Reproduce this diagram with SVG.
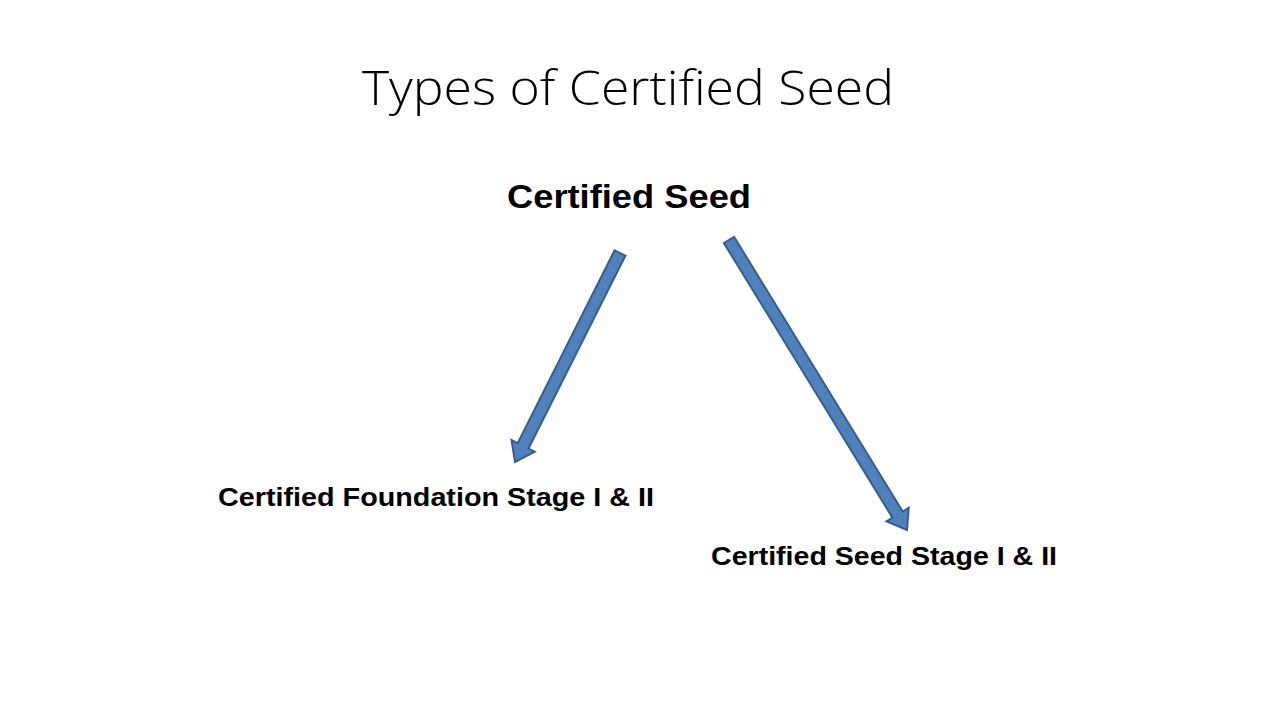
<svg xmlns="http://www.w3.org/2000/svg" width="1280" height="720" viewBox="0 0 1280 720">
<style>
.t{font-family:"Open Sans","Liberation Sans",sans-serif;fill:#000}
.b{font-family:"Liberation Sans","Open Sans",sans-serif;font-weight:bold;fill:#000}
.a{fill:#4F81BD;stroke:#385D8A;stroke-width:2}
</style>
<rect width="1280" height="720" fill="#fff"/>
<g id="title"><text class="t" x="628" y="105" font-size="48" font-weight="300" text-anchor="middle" textLength="532" lengthAdjust="spacingAndGlyphs">Types of Certified Seed</text></g>
<g id="root"><text class="b" x="507" y="208" font-size="34" textLength="244" lengthAdjust="spacingAndGlyphs">Certified Seed</text></g>
<g id="foundation"><text class="b" x="218" y="506" font-size="25" textLength="436" lengthAdjust="spacingAndGlyphs">Certified Foundation Stage I &amp; II</text></g>
<g id="seedstage"><text class="b" x="711" y="565" font-size="25" textLength="346" lengthAdjust="spacingAndGlyphs">Certified Seed Stage I &amp; II</text></g>
<g id="connectors">
<polygon class="a" points="614.6,250.3 625.4,255.7 528.5,448.6 534.7,451.7 515,462 511.5,440.1 517.7,443.2"/>
<polygon class="a" points="723.9,243.1 734.1,236.9 902.7,511.5 908.7,507.8 907,530 886.5,521.4 892.5,517.7"/>
</g>
</svg>
